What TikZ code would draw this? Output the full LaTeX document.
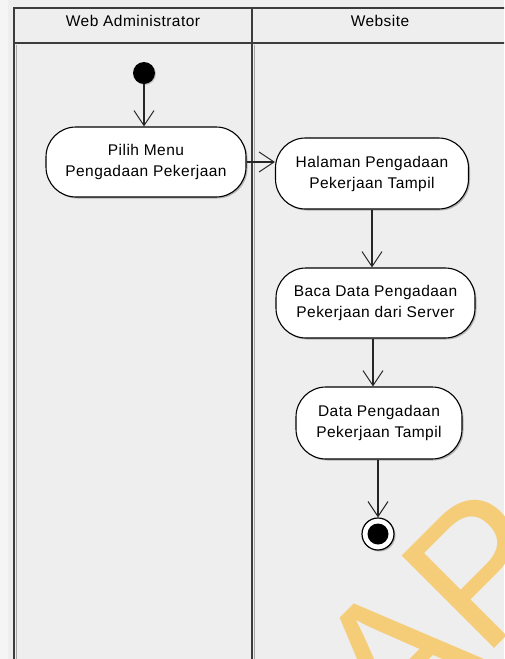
\documentclass[tikz,border=0pt]{standalone}
\usepackage{fontspec}
\setmainfont{Liberation Sans}[LetterSpace=3.0]
\newfontfamily\markfont{Liberation Sans}
\usetikzlibrary{arrows.meta,shadows}
\definecolor{bg}{HTML}{EEEEEE}
\definecolor{edge}{HTML}{F5F5F5}
\definecolor{frame}{HTML}{3C3C3C}
\definecolor{frameshade}{HTML}{A8A8A8}
\definecolor{wmark}{HTML}{F5CD78}
\tikzset{
  lane/.style={draw=frame, line width=2pt},
  laneshade/.style={draw=frameshade, line width=1pt},
  action/.style={draw=black, line width=1.1pt, fill=white, rounded corners=30pt,
    align=center, inner sep=0pt, font=\fontsize{15.5}{21}\selectfont,
    drop shadow={shadow xshift=1.5pt, shadow yshift=-1.5pt, fill=black!45, opacity=.6}},
  flow/.style={draw=black!85, line width=1.1pt,
    -{Straight Barb[length=15pt,width=20pt,line width=1pt]}},
  title/.style={font=\fontsize{15.5}{19}\selectfont, inner sep=0pt}
}
\begin{document}
\begin{tikzpicture}[x=1pt,y=-1pt]
\useasboundingbox (0,0) rectangle (504,659);
\clip (0,0) rectangle (504,659);
% background
\fill[bg] (0,0) rectangle (504,659);
\fill[edge] (0,0) rectangle (8,659);

% swimlane frame
\draw[laneshade] (16,44.5) -- (16,670);
\draw[laneshade] (254,44.5) -- (254,670);
\draw[lane] (14,8) rectangle (508,680);
\draw[lane] (14,43) -- (508,43);
\draw[lane] (252,8) -- (252,680);
\node[title] (laneA) at (133,21) {Web Administrator};
\node[title] (laneB) at (380,21) {Website};

% start and end
\node[circle, fill=black, minimum size=22pt, inner sep=0pt,
  drop shadow={shadow xshift=1pt, shadow yshift=-1pt, fill=black!40, opacity=.5}] (start) at (144,73) {};
\node[circle, draw=black, line width=1.2pt, fill=white, minimum size=32pt, inner sep=0pt,
  drop shadow={shadow xshift=1.5pt, shadow yshift=-1.5pt, fill=black!45, opacity=.6}] (finish) at (378,534) {};
\node[circle, fill=black, minimum size=21pt, inner sep=0pt] (finishdot) at (finish) {};

% actions
\node[action, minimum width=200pt, minimum height=70pt] (pilih) at (146,162)
  {Pilih Menu\\Pengadaan Pekerjaan};
\node[action, minimum width=193pt, minimum height=71pt] (halaman) at (372,173.5)
  {Halaman Pengadaan\\Pekerjaan Tampil};
\node[action, minimum width=199pt, minimum height=70pt] (baca) at (375.5,303)
  {Baca Data Pengadaan\\Pekerjaan dari Server};
\node[action, minimum width=166pt, minimum height=72pt] (data) at (379,423)
  {Data Pengadaan\\Pekerjaan Tampil};

% control flow
\draw[flow] (start) -- (start |- pilih.north);
\draw[flow] (pilih.east) -- (pilih.east -| halaman.west);
\draw[flow] (halaman.south) -- (halaman.south |- baca.north);
\coordinate (bacaout) at ([xshift=-2.5pt]baca.south);
\draw[flow] (bacaout) -- (bacaout |- data.north);
\draw[flow] (finish |- data.south) -- (finish.north);

% watermark
\node[rotate=45, anchor=base west, inner sep=0pt, text=wmark,
  font=\markfont\fontsize{190}{190}\selectfont] (wm) at (394,749) {AP};
\end{tikzpicture}
\end{document}
